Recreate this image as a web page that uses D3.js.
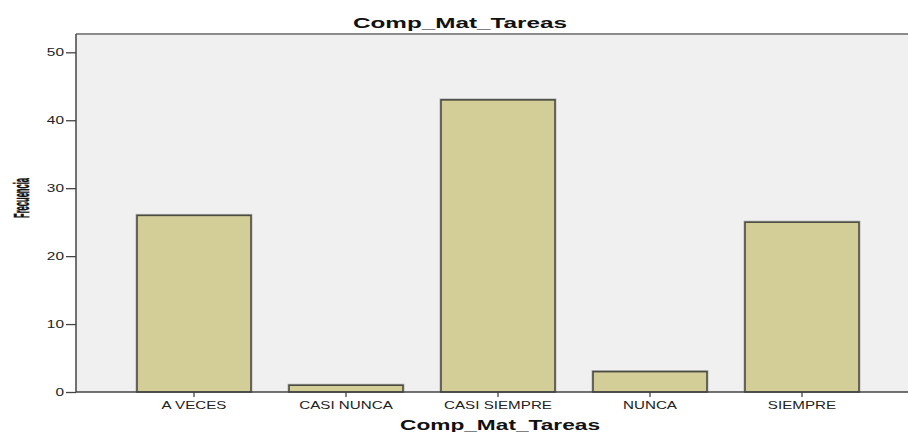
<!DOCTYPE html>
<html>
<head>
<meta charset="utf-8">
<script src="https://cdn.jsdelivr.net/npm/d3@7"></script>
<style>
body { margin: 0; background: #fff; }
text { font-family: "Liberation Sans", Arial, sans-serif; }
</style>
</head>
<body>
<svg id="chart" width="908" height="432"></svg>
<script>
var categories = ["A VECES", "CASI NUNCA", "CASI SIEMPRE", "NUNCA", "SIEMPRE"];
var counts = [26, 1, 43, 3, 25];
var yTicks = [0, 10, 20, 30, 40, 50];
var TITLE = "Comp_Mat_Tareas";

var LEFT = 76, RIGHT = 908, TOP = 34, BOTTOM = 392;

var svg = d3.select("#chart");

var x = d3.scaleBand().domain(categories).range([118, 878]).paddingInner(0.25).paddingOuter(0.125);
var y = d3.scaleLinear().domain([0, 50]).range([BOTTOM, 52.3]);

// plot background
svg.append("rect").attr("x", LEFT).attr("y", TOP).attr("width", RIGHT - LEFT).attr("height", BOTTOM - TOP).attr("fill", "#f0f0f0");
svg.append("line").attr("x1", LEFT).attr("x2", RIGHT).attr("y1", TOP).attr("y2", TOP).attr("stroke", "#8c8c8c").attr("stroke-width", 2);

// bars
var bars = svg.append("g").selectAll("g").data(counts).enter().append("g");
bars.append("rect")
	.attr("x", (d, i) => x(categories[i]) - 1).attr("y", d => y(d) - 1)
	.attr("width", x.bandwidth() + 2).attr("height", d => BOTTOM - y(d) + 1)
	.attr("fill", "none").attr("stroke", "#b8b8b8").attr("stroke-width", 1);
bars.append("rect")
	.attr("x", (d, i) => x(categories[i])).attr("y", d => y(d))
	.attr("width", x.bandwidth()).attr("height", d => BOTTOM - y(d))
	.attr("fill", "#d3cd98").attr("stroke", "#4a4a40").attr("stroke-width", 1.6);

// y axis
var yAxis = svg.append("g").attr("transform", "translate(" + LEFT + ",0)")
	.call(d3.axisLeft(y).tickValues(yTicks).tickSize(10).tickPadding(0));
yAxis.select(".domain").attr("d", "M0," + TOP + "V" + BOTTOM).attr("stroke", "#444").attr("stroke-width", 1.5);
yAxis.selectAll(".tick line").attr("stroke", "#444").attr("stroke-width", 1.3);
yAxis.selectAll(".tick text").attr("font-size", 11).attr("fill", "#222").attr("font-family", "Liberation Sans, Arial, sans-serif")
	.attr("transform", "translate(-12,0) scale(1.4,1)").attr("x", 0);

// x axis
var xAxis = svg.append("g").attr("transform", "translate(0," + BOTTOM + ")")
	.call(d3.axisBottom(x).tickSize(5).tickPadding(4));
xAxis.select(".domain").attr("d", "M" + LEFT + ",0H" + RIGHT).attr("stroke", "#444").attr("stroke-width", 1.5);
xAxis.selectAll(".tick line").attr("stroke", "#444").attr("stroke-width", 1.3);
xAxis.selectAll(".tick text").attr("font-size", 11).attr("fill", "#222").attr("font-family", "Liberation Sans, Arial, sans-serif")
	.attr("transform", "scale(1.38,1)");

// titles
svg.append("text").attr("x", 460).attr("y", 28).attr("text-anchor", "middle")
	.attr("font-size", 14).attr("font-weight", "bold").attr("fill", "#111")
	.attr("textLength", 214).attr("lengthAdjust", "spacingAndGlyphs").text(TITLE);
svg.append("text").attr("x", 500).attr("y", 430).attr("text-anchor", "middle")
	.attr("font-size", 14).attr("font-weight", "bold").attr("fill", "#111")
	.attr("textLength", 200).attr("lengthAdjust", "spacingAndGlyphs").text(TITLE);

// y label: tall, condensed
var ylab = svg.append("text").attr("text-anchor", "middle")
	.attr("font-size", 22).attr("font-weight", "bold").attr("fill", "#111")
	.attr("stroke", "#111").attr("stroke-width", 0.6)
	.text("Frecuencia");
var len = ylab.node().getComputedTextLength();
ylab.attr("transform", "translate(28.5,198) rotate(-90) scale(" + (40 / len) + ",1)");
</script>
</body>
</html>
